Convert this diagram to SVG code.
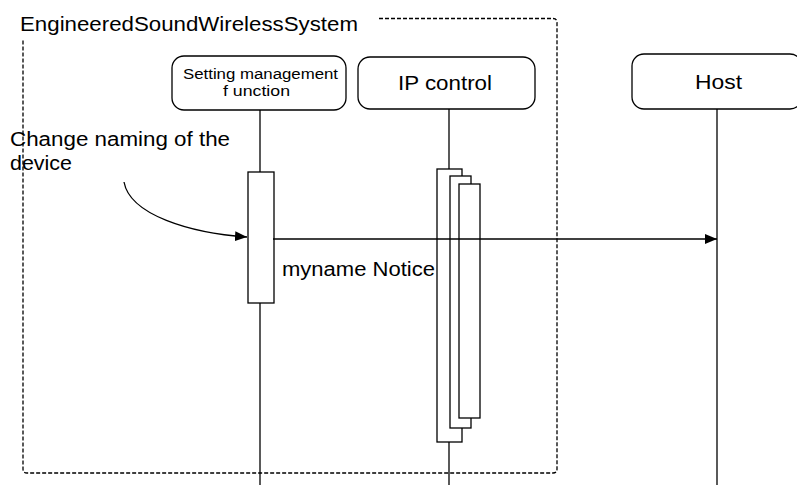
<svg xmlns="http://www.w3.org/2000/svg" width="797" height="485" viewBox="0 0 797 485">
<defs>
<style>
text{font-family:"Liberation Sans",Arial,sans-serif;fill:#000}
.box{fill:#fff;stroke:#000;stroke-width:1.3}
.ln{stroke:#000;stroke-width:1.3;fill:none}
.act{fill:#fff;stroke:#000;stroke-width:1.3}
</style>
<marker id="ah" markerWidth="12" markerHeight="10" refX="12" refY="5" orient="auto" markerUnits="userSpaceOnUse"><path d="M0,0 L12,5 L0,10 Z" fill="#000"/></marker>
</defs>
<rect width="797" height="485" fill="#fff"/>
<g id="frame">
<path d="M379,18.5 H553 Q557,18.5 557,22.5 V469 Q557,473 553,473 H27 Q23,473 23,469 V40" class="ln" stroke-dasharray="4,2"/>
<text x="20" y="31" font-size="20" textLength="338" lengthAdjust="spacingAndGlyphs">EngineeredSoundWirelessSystem</text>
</g>
<g id="connectors">
<line x1="260" y1="110" x2="260" y2="172" class="ln"/>
<line x1="260" y1="303" x2="260" y2="485" class="ln"/>
<line x1="449" y1="109" x2="449" y2="169" class="ln"/>
<line x1="449" y1="442" x2="449" y2="485" class="ln"/>
<line x1="717" y1="109" x2="717" y2="485" class="ln"/>
<path d="M124,182 C130,215 190,233 247,237" class="ln" marker-end="url(#ah)"/>
</g>
<g id="setting">
<rect x="172" y="56" width="174" height="54" rx="12" class="box"/>
<text x="183" y="78.5" font-size="15.5" textLength="155" lengthAdjust="spacingAndGlyphs">Setting management</text>
<text x="223" y="96" font-size="15.5" textLength="67" lengthAdjust="spacingAndGlyphs">f unction</text>
<rect x="248" y="172" width="26" height="131" class="act"/>
</g>
<g id="ipcontrol">
<rect x="358" y="57" width="177" height="52" rx="12" class="box"/>
<text x="398" y="89.5" font-size="20" textLength="94" lengthAdjust="spacingAndGlyphs">IP control</text>
<rect x="437" y="169" width="25" height="273" class="act"/>
<rect x="450" y="176" width="21" height="252" class="act"/>
<rect x="459" y="184" width="21" height="234" class="act"/>
</g>
<g id="host">
<rect x="632" y="54" width="170" height="55" rx="12" class="box"/>
<text x="695" y="88.5" font-size="20" textLength="47" lengthAdjust="spacingAndGlyphs">Host</text>
</g>
<g id="message">
<line x1="273" y1="239" x2="717" y2="239" class="ln" marker-end="url(#ah)"/>
<text x="282" y="276" font-size="20" textLength="153" lengthAdjust="spacingAndGlyphs">myname Notice</text>
</g>
<g id="note">
<text x="10" y="146" font-size="20" textLength="220" lengthAdjust="spacingAndGlyphs">Change naming of the</text>
<text x="10" y="170" font-size="20" textLength="62" lengthAdjust="spacingAndGlyphs">device</text>
</g>
</svg>
